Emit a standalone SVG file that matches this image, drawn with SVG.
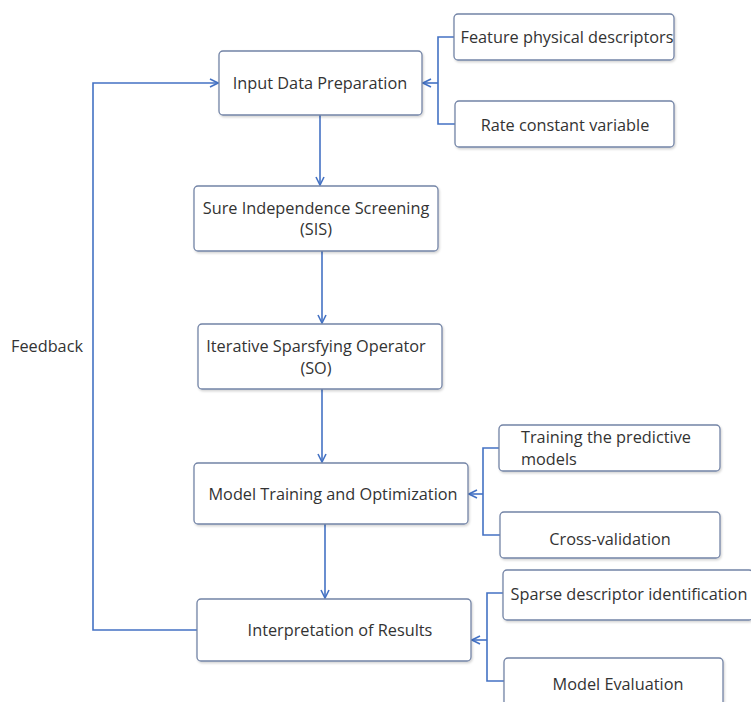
<svg xmlns="http://www.w3.org/2000/svg" width="751" height="702" viewBox="0 0 751 702">
<defs>
<marker id="arr" viewBox="0 0 10 10" refX="9" refY="5" markerWidth="10" markerHeight="10" markerUnits="userSpaceOnUse" orient="auto">
<path d="M1,1 L9,5 L1,9" fill="none" stroke="#4472c4" stroke-width="1.6"/>
</marker>
<filter id="sh" x="-5%" y="-5%" width="110%" height="120%">
<feDropShadow dx="1" dy="1.5" stdDeviation="1" flood-color="#000" flood-opacity="0.18"/>
</filter>
</defs>
<style>
.box{fill:#fff;stroke:#7384a6;stroke-width:1.3;filter:url(#sh)}
.t{font-family:"Open Sans","Noto Sans",sans-serif;font-size:16.3px;fill:#333}
.c{fill:none;stroke:#4472c4;stroke-width:1.6}
</style>
<rect width="751" height="702" fill="#fff"/>
<g id="connectors">
<path class="c" d="M320,115 V185" marker-end="url(#arr)"/>
<path class="c" d="M322,251 V323" marker-end="url(#arr)"/>
<path class="c" d="M322,389 V462" marker-end="url(#arr)"/>
<path class="c" d="M325,524 V598" marker-end="url(#arr)"/>
<path class="c" d="M454,37 H438 V124 H455"/>
<path class="c" d="M438,83 H423" marker-end="url(#arr)"/>
<path class="c" d="M499,448 H483 V535 H500"/>
<path class="c" d="M483,494 H469" marker-end="url(#arr)"/>
<path class="c" d="M503,593 H487 V681 H504"/>
<path class="c" d="M487,640 H472" marker-end="url(#arr)"/>
<path class="c" d="M197,630 H93 V83 H218" marker-end="url(#arr)"/>
</g>
<g id="input">
<rect class="box" x="219" y="51" width="203" height="64" rx="4"/>
<text class="t" x="320" y="89" text-anchor="middle">Input Data Preparation</text>
</g>
<g id="feature">
<rect class="box" x="454" y="14" width="220" height="46" rx="4"/>
<text class="t" x="567" y="43" text-anchor="middle">Feature physical descriptors</text>
</g>
<g id="rate">
<rect class="box" x="455" y="101" width="219" height="46" rx="4"/>
<text class="t" x="565" y="131" text-anchor="middle">Rate constant variable</text>
</g>
<g id="sis">
<rect class="box" x="194" y="186" width="244" height="65" rx="4"/>
<text class="t" x="316" y="214" text-anchor="middle">Sure Independence Screening</text>
<text class="t" x="316" y="235" text-anchor="middle">(SIS)</text>
</g>
<g id="so">
<rect class="box" x="198" y="324" width="244" height="65" rx="4"/>
<text class="t" x="316" y="352" text-anchor="middle">Iterative Sparsfying Operator</text>
<text class="t" x="316" y="374" text-anchor="middle">(SO)</text>
</g>
<g id="training">
<rect class="box" x="194" y="463" width="274" height="61" rx="4"/>
<text class="t" x="333" y="500" text-anchor="middle">Model Training and Optimization</text>
</g>
<g id="predictive">
<rect class="box" x="499" y="425" width="221" height="46" rx="4"/>
<text class="t" x="521" y="443">Training the predictive</text>
<text class="t" x="521" y="465">models</text>
</g>
<g id="crossval">
<rect class="box" x="500" y="512" width="220" height="46" rx="4"/>
<text class="t" x="610" y="545" text-anchor="middle">Cross-validation</text>
</g>
<g id="interp">
<rect class="box" x="197" y="599" width="274" height="62" rx="4"/>
<text class="t" x="340" y="636" text-anchor="middle">Interpretation of Results</text>
</g>
<g id="sparse">
<rect class="box" x="503" y="570" width="250" height="50" rx="4"/>
<text class="t" x="629" y="600" text-anchor="middle">Sparse descriptor identification</text>
</g>
<g id="evaluation">
<rect class="box" x="504" y="658" width="219" height="60" rx="4"/>
<text class="t" x="618" y="690" text-anchor="middle">Model Evaluation</text>
</g>
<g id="feedback">
<text class="t" x="11" y="352">Feedback</text>
</g>
</svg>
